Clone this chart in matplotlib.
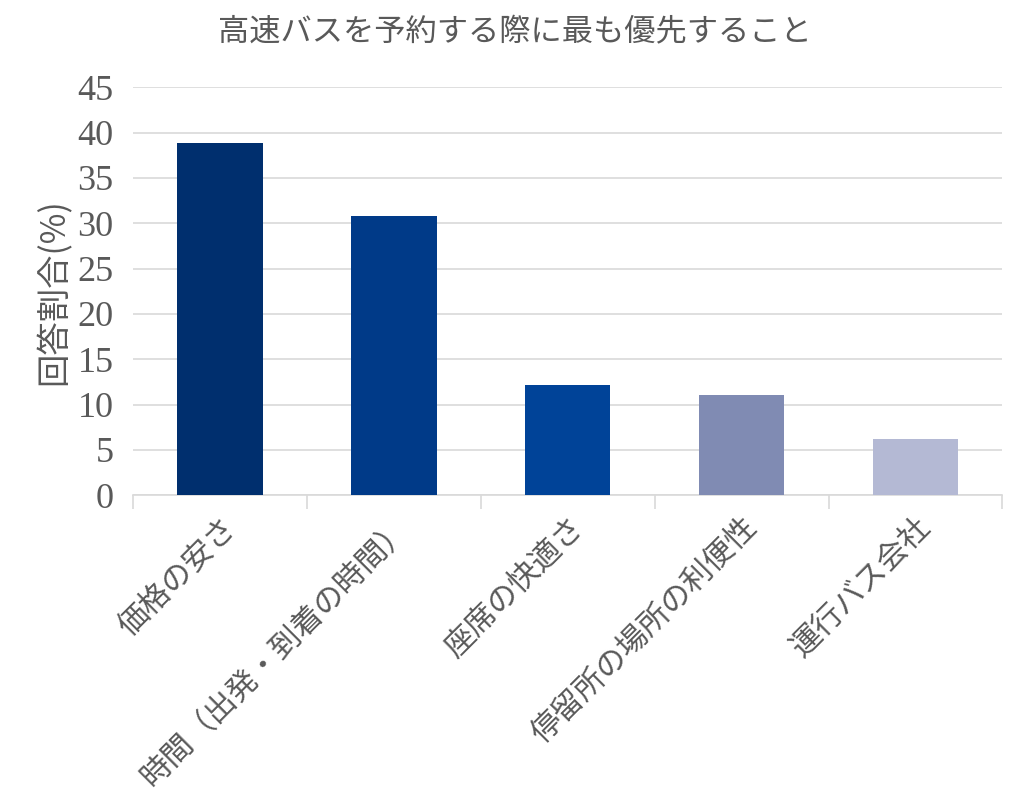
import matplotlib
matplotlib.use("Agg")
import matplotlib.pyplot as plt

plt.rcParams['font.family'] = ['Noto Sans CJK JP', 'DejaVu Sans']

categories = ["価格の安さ", "時間（出発・到着の時間）", "座席の快適さ", "停留所の場所の利便性", "運行バス会社"]
values = [38.8, 30.8, 12.2, 11.1, 6.2]
colors = ["#002F6E", "#003A88", "#004398", "#808BB3", "#B4B9D4"]
yticks = [0, 5, 10, 15, 20, 25, 30, 35, 40, 45]

text_color = "#595959"
grid_color = "#D9D9D9"

fig = plt.figure(figsize=(10.24, 8.08), dpi=100)
ax = fig.add_axes([0.130, 0.387, 0.849, 0.505])

x = range(len(categories))
ax.bar(x, values, width=0.49, color=colors, zorder=3)

ax.set_xlim(-0.5, len(categories) - 0.5)
ax.set_ylim(0, 45)
ax.set_yticks(yticks)
ax.set_yticklabels([str(v) for v in yticks], family="Liberation Serif",
                   fontsize=26, color=text_color)
ax.yaxis.grid(True, color=grid_color, linewidth=1.2, zorder=0)
ax.tick_params(axis="y", length=0, pad=14)

# category labels, slanted, tick marks sit between categories
ax.set_xticks(list(x))
ax.set_xticklabels(categories, rotation=45, ha="right", rotation_mode="anchor",
                   fontsize=22, color=text_color)
ax.tick_params(axis="x", length=0, pad=12)
ax.set_xticks([i - 0.5 for i in range(len(categories) + 1)], minor=True)
ax.tick_params(axis="x", which="minor", length=10, color=grid_color, width=1.2)

for side in ["top", "right", "left"]:
    ax.spines[side].set_visible(False)
ax.spines["bottom"].set_color(grid_color)
ax.spines["bottom"].set_linewidth(1.2)

ax.set_ylabel("回答割合(%)", fontsize=24, color=text_color, labelpad=4)
fig.suptitle("高速バスを予約する際に最も優先すること", fontsize=22.5,
             color=text_color, x=0.503, y=0.98)

fig.savefig("out.png", dpi=100)
